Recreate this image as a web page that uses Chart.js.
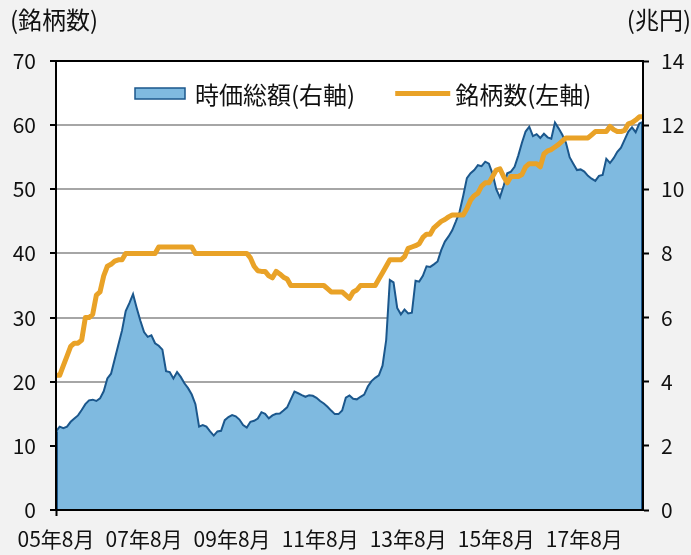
<!DOCTYPE html>
<html>
<head>
<meta charset="utf-8">
<script src="https://cdn.jsdelivr.net/npm/chart.js@4/dist/chart.umd.min.js"></script>
<style>
html,body{margin:0;padding:0;background:#f2f2f2;overflow:hidden;}
#wrap{width:691px;height:555px;position:relative;}
canvas{display:block;}
</style>
</head>
<body>
<div id="wrap"><canvas id="c" width="691" height="555" style="width:691px;height:555px"></canvas></div>
<script>
// ---- categories: monthly from 05年8月 ----
const startYear = 2005;
const startMonth = 8;
const monthCount = 161;
const months = [];
for (let k = 0; k < monthCount; k++) {
  const m0 = startMonth - 1 + k;
  const y = startYear + Math.floor(m0 / 12);
  const m = (m0 % 12) + 1;
  months.push(String(y % 100).padStart(2, '0') + '年' + m + '月');
}
const tickEvery = 24;

// ---- series: 時価総額 (兆円, right axis) ----
const marketCap = [
  2.45,2.6,2.55,2.6,2.75,2.85,2.95,3.12,3.3,3.42,
  3.44,3.4,3.48,3.7,4.1,4.25,4.7,5.15,5.6,6.2,
  6.45,6.73,6.3,5.9,5.55,5.4,5.45,5.2,5.12,5.0,
  4.33,4.3,4.1,4.3,4.15,3.95,3.8,3.6,3.3,2.6,
  2.65,2.6,2.45,2.32,2.45,2.47,2.8,2.9,2.96,2.92,
  2.82,2.65,2.57,2.75,2.78,2.85,3.05,3.0,2.86,2.95,
  3.0,3.01,3.1,3.2,3.45,3.69,3.64,3.58,3.53,3.58,
  3.56,3.5,3.4,3.32,3.22,3.1,2.99,2.99,3.1,3.5,
  3.57,3.47,3.45,3.53,3.6,3.85,4.02,4.12,4.2,4.5,
  5.3,7.17,7.1,6.3,6.1,6.25,6.13,6.15,7.15,7.12,
  7.3,7.6,7.58,7.66,7.75,8.1,8.37,8.53,8.72,9.0,
  9.3,9.8,10.35,10.5,10.6,10.75,10.72,10.86,10.8,10.48,
  10.0,9.75,10.1,10.5,10.55,10.7,11.05,11.45,11.8,11.95,
  11.66,11.72,11.6,11.73,11.62,11.58,12.08,11.9,11.7,11.45,
  11.0,10.8,10.6,10.62,10.55,10.42,10.33,10.26,10.42,10.45,
  10.95,10.82,10.97,11.17,11.3,11.55,11.8,11.93,11.78,12.05,
  12.1
];

// ---- series: 銘柄数 (left axis) ----
const stockCount = [
  21,21,22.5,24,25.5,26,26,26.5,30,30,
  30.5,33.5,34,36.5,38,38.3,38.8,39,39,40,
  40,40,40,40,40,40,40,40,41,41,
  41,41,41,41,41,41,41,41,40,40,
  40,40,40,40,40,40,40,40,40,40,
  40,40,40,39.3,38,37.3,37.2,37.2,36.5,36.2,
  37.2,36.8,36.3,36,35,35,35,35,35,35,
  35,35,35,35,34.5,34,34,34,34,33.5,
  33,34,34.3,35,35,35,35,35,36,37,
  38,39,39,39,39,39.5,40.8,41,41.2,41.5,
  42.5,43,43,44,44.5,45,45.3,45.7,46,46,
  46,46,47,48.3,49,49.4,50.5,51,51,52,
  53,53.2,52,51,52,52,52,52.3,53.5,54,
  54,54,53.5,55.5,56,56.2,56.6,57,57.5,58,
  58,58,58,58,58,58,58.5,59,59,59,
  59,59.8,59.3,59,59,59.2,60.2,60.4,60.8,61.3,
  61.3
];

const seriesNames = ['時価総額(右軸)', '銘柄数(左軸)'];
const axisTitles = ['(銘柄数)', '(兆円)'];
const leftAxisRange = [0, 70, 10];
const rightAxisRange = [0, 14, 2];

const FONT = "'Noto Sans CJK JP', sans-serif";
const TEXT = '#111111';
const ORANGE = '#E9A227';
const BLUE_FILL = '#7FBAE0';
const BLUE_LINE = '#1B578C';
const GRID = '#a6a6a6';
const TICK_FONT = { family: FONT, size: 21 };

Chart.defaults.font.family = FONT;
Chart.defaults.font.size = 21;
Chart.defaults.color = TEXT;

const bgPlugin = {
  id: 'bg',
  beforeDraw(chart) {
    const {ctx, chartArea: ca} = chart;
    ctx.save();
    ctx.fillStyle = '#f2f2f2';
    ctx.fillRect(0, 0, chart.width, chart.height);
    ctx.fillStyle = '#ffffff';
    ctx.fillRect(ca.left, ca.top, ca.right - ca.left, ca.bottom - ca.top);
    ctx.restore();
  }
};

const areaEdgePlugin = {
  id: 'areaEdges',
  afterDatasetDraw(chart, args) {
    const ds = chart.data.datasets[args.index];
    if (!ds.fill) return;
    const pts = args.meta.data;
    if (!pts.length) return;
    const base = chart.scales[ds.yAxisID].getPixelForValue(0);
    const ctx = chart.ctx;
    ctx.save();
    ctx.strokeStyle = ds.borderColor;
    ctx.lineWidth = ds.borderWidth;
    ctx.beginPath();
    const a = pts[0], b = pts[pts.length - 1];
    ctx.moveTo(a.x + 1, a.y); ctx.lineTo(a.x + 1, base);
    ctx.moveTo(b.x - 1, b.y); ctx.lineTo(b.x - 1, base);
    ctx.stroke();
    ctx.restore();
  }
};

const labelsPlugin = {
  id: 'insideLegend',
  afterDraw(chart) {
    const {ctx, chartArea: ca} = chart;
    const orange = chart.data.datasets[0];
    const blue = chart.data.datasets[1];
    ctx.save();
    ctx.font = '24px ' + FONT;
    ctx.textBaseline = 'middle';
    // axis titles
    ctx.fillStyle = TEXT;
    ctx.textAlign = 'left';
    ctx.fillText(axisTitles[0], 10, 20);
    ctx.textAlign = 'right';
    ctx.fillText(axisTitles[1], 691, 20);
    // legend
    ctx.textAlign = 'left';
    const cy = ca.top + 32.5;
    let x = ca.left + 79;
    ctx.fillStyle = blue.backgroundColor;
    ctx.fillRect(x, cy - 5.5, 50, 11);
    ctx.strokeStyle = blue.borderColor;
    ctx.lineWidth = 1.5;
    ctx.strokeRect(x, cy - 5.5, 50, 11);
    x += 60;
    ctx.fillStyle = TEXT;
    ctx.fillText(blue.label, x, cy + 1);
    x += ctx.measureText(blue.label).width + 40;
    ctx.strokeStyle = orange.borderColor;
    ctx.lineWidth = 5;
    ctx.beginPath();
    ctx.moveTo(x, cy); ctx.lineTo(x + 55, cy);
    ctx.stroke();
    x += 60;
    ctx.fillText(orange.label, x, cy + 1);
    ctx.restore();
  }
};

new Chart(document.getElementById('c'), {
  type: 'line',
  data: {
    labels: months,
    datasets: [
      {
        label: seriesNames[1],
        data: stockCount,
        yAxisID: 'y',
        borderColor: ORANGE,
        borderWidth: 5,
        borderJoinStyle: 'round',
        pointRadius: 0,
        fill: false,
        tension: 0,
        order: 0
      },
      {
        label: seriesNames[0],
        data: marketCap,
        yAxisID: 'y2',
        borderColor: BLUE_LINE,
        backgroundColor: BLUE_FILL,
        borderWidth: 2,
        pointRadius: 0,
        fill: 'origin',
        tension: 0,
        order: 1
      }
    ]
  },
  options: {
    responsive: false,
    animation: false,
    devicePixelRatio: 1,
    layout: { padding: { top: 61, left: 0, right: 0, bottom: 0 } },
    plugins: { legend: { display: false }, tooltip: { enabled: false } },
    scales: {
      x: {
        type: 'category',
        offset: false,
        grid: {
          drawOnChartArea: false,
          drawTicks: true,
          tickLength: 6,
          tickWidth: 2,
          tickColor: (c) => (c.index % tickEvery === 0 ? '#000' : 'rgba(0,0,0,0)')
        },
        border: { display: true, color: '#000', width: 2, z: 1 },
        ticks: {
          autoSkip: false,
          maxRotation: 0,
          minRotation: 0,
          padding: 10,
          color: TEXT,
          font: TICK_FONT,
          callback: function (v, i) { return i % tickEvery === 0 ? this.getLabelForValue(v) : null; }
        },
        afterFit(s) { s.height = 45; }
      },
      y: {
        type: 'linear',
        position: 'left',
        min: leftAxisRange[0],
        max: leftAxisRange[1],
        ticks: { stepSize: leftAxisRange[2], padding: 14, color: TEXT, font: TICK_FONT },
        grid: {
          color: (c) => (c.tick && c.tick.value === leftAxisRange[1]) ? '#000' : (c.tick && c.tick.value === 0 ? 'rgba(0,0,0,0)' : GRID),
          lineWidth: 2,
          tickLength: 6,
          tickWidth: 2,
          tickColor: '#000'
        },
        border: { display: true, color: '#000', width: 2, z: 1 },
        afterFit(s) { s.width = 56; }
      },
      y2: {
        type: 'linear',
        position: 'right',
        min: rightAxisRange[0],
        max: rightAxisRange[1],
        ticks: { stepSize: rightAxisRange[2], padding: 12, color: TEXT, font: TICK_FONT },
        grid: {
          drawOnChartArea: false,
          tickLength: 6,
          tickWidth: 2,
          tickColor: '#000'
        },
        border: { display: true, color: '#000', width: 2, z: 1 },
        afterFit(s) { s.width = 48; }
      }
    }
  },
  plugins: [bgPlugin, areaEdgePlugin, labelsPlugin]
});
</script>
</body>
</html>
